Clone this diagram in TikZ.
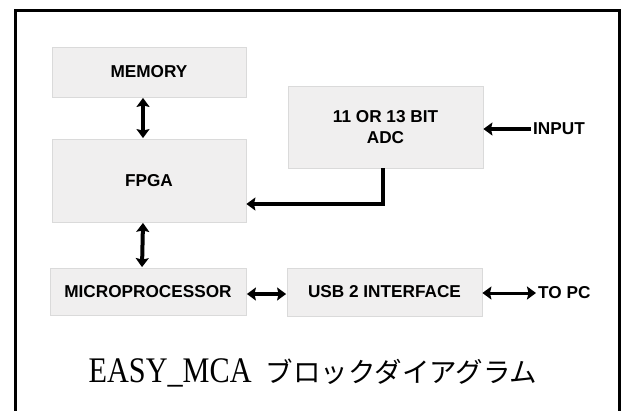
\documentclass[tikz,border=0pt]{standalone}
\usepackage{fontspec}
\setmainfont{Liberation Serif}
\newfontfamily\labfont{Liberation Sans}
\newfontfamily\cjkfont{Noto Sans CJK JP}
\usetikzlibrary{arrows.meta}
\definecolor{boxfill}{HTML}{F0EFEF}
\definecolor{boxline}{HTML}{DADADA}
\tikzset{
  blockbox/.style={draw=boxline, line width=0.8pt, fill=boxfill, inner sep=0pt,
    font=\labfont\bfseries\fontsize{17.2}{21.5}\selectfont, align=center},
  lbl/.style={inner sep=2pt, font=\labfont\bfseries\fontsize{17.2}{21.5}\selectfont},
  tip/.tip={Stealth[length=9pt,width=13pt,inset=1.5pt]},
  fat/.style={line width=4pt},
  onearrow/.style={fat,-tip},
  twoarrow/.style={fat,tip-tip},
}
\begin{document}
\begin{tikzpicture}[x=1pt,y=-1pt]
\useasboundingbox (0,0) rectangle (627,410);
\clip (0,0) rectangle (627,410);
\fill[white] (0,0) rectangle (627,410);
% frame
\draw[line width=3pt] (15,10.5) rectangle (619,420);
% blocks
\node[blockbox, minimum width=194pt, minimum height=50pt] (memory) at (149,72) {MEMORY};
\node[blockbox, minimum width=194pt, minimum height=83pt] (fpga) at (149,180.5) {FPGA};
\node[blockbox, minimum width=195pt, minimum height=82pt] (adc) at (385.5,127) {11 OR 13 BIT\\ADC};
\node[blockbox, minimum width=196pt, minimum height=47pt] (micro) at (148,291.5) {MICROPROCESSOR};
\node[blockbox, minimum width=195pt, minimum height=48pt] (usb) at (384.5,292) {USB 2 INTERFACE};
% labels
\node[lbl, anchor=west] (input) at (531,129) {INPUT};
\node[lbl, anchor=west] (topc) at (536,293) {TO PC};
% connectors
\draw[twoarrow, shorten <=0.5pt, shorten >=0.5pt] ([xshift=-6pt]memory.south) -- ([xshift=-6pt]fpga.north);
\draw[twoarrow, shorten <=0.5pt, shorten >=0.5pt] ([xshift=-6pt]fpga.south) -- ([xshift=-6pt]micro.north);
\draw[twoarrow, shorten <=0.5pt, shorten >=0.5pt] ([yshift=-2.5pt]micro.east) -- (usb.west |- 0,294);
\draw[onearrow] (input.west) -- (adc.east |- input.west);
\draw[line width=3pt, tip-tip] (usb.east |- topc.west) -- (topc.west);
\draw[line width=4.5pt, -tip] ([xshift=-2.5pt]adc.south) |- ([yshift=-23.5pt]fpga.east);
% title
\node[anchor=base, inner sep=0pt] (title) at (313,382)
  {\scalebox{0.84}[1]{\fontsize{36}{40}\selectfont EASY\_MCA}\hspace{14pt}{\cjkfont\fontsize{27.5}{31}\selectfont ブロックダイアグラム}};
\end{tikzpicture}
\end{document}
